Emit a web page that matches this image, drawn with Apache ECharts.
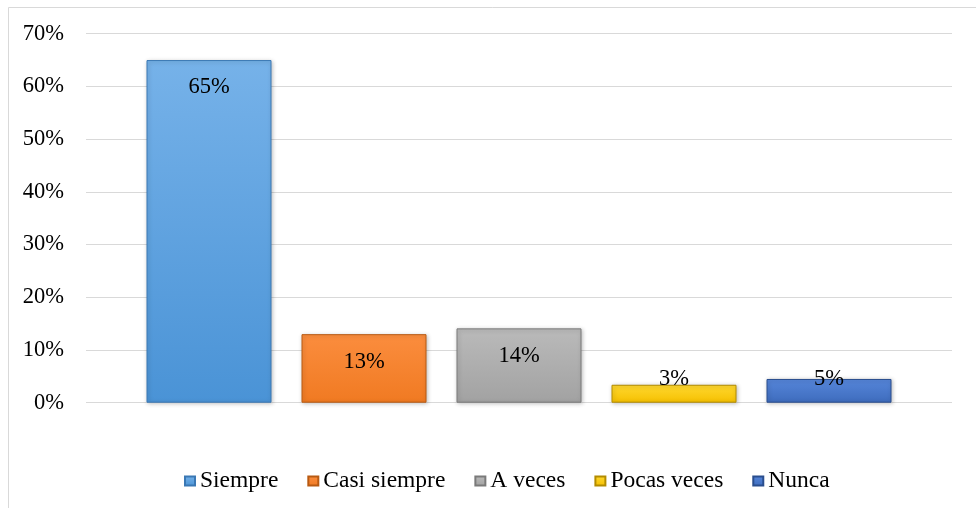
<!DOCTYPE html>
<html>
<head>
<meta charset="utf-8">
<script src="https://cdn.jsdelivr.net/npm/echarts@6/dist/echarts.min.js"></script>
<style>html,body{margin:0;padding:0;background:#fff;}#c{width:976px;height:508px;}</style>
</head>
<body>
<div id="c"></div>
<script>
const seriesNames = ['Siempre', 'Casi siempre', 'A veces', 'Pocas veces', 'Nunca'];
const seriesValues = [65, 13, 14.1, 3.4, 4.5];
const yTicks = [0, 10, 20, 30, 40, 50, 60, 70];

const palette = [
  {top: '#76B2E9', bottom: '#4A93D6', border: '#3A78B4'},
  {top: '#FB8D3E', bottom: '#F07A22', border: '#B85A12'},
  {top: '#BABABA', bottom: '#A2A2A2', border: '#7A7A7A'},
  {top: '#FFD830', bottom: '#F5C000', border: '#B38C00'},
  {top: '#5686DA', bottom: '#3E6CBD', border: '#2A4E8E'}
];
const FONT = 'Liberation Serif';

const chart = echarts.init(document.getElementById('c'), null, {renderer: 'canvas'});
const series = seriesNames.map((name, i) => {
  const v = seriesValues[i];
  const big = v >= 10;
  return {
    name: name,
    type: 'bar',
    data: [v],
    barWidth: 125,
    barGap: '24%',
    itemStyle: {
      color: new echarts.graphic.LinearGradient(0, 0, 0, 1, [
        {offset: 0, color: palette[i].top},
        {offset: 1, color: palette[i].bottom}
      ]),
      borderColor: palette[i].border,
      borderWidth: 1,
      shadowColor: 'rgba(0,0,0,0.25)',
      shadowBlur: 4,
      shadowOffsetX: 1,
      shadowOffsetY: 1
    },
    label: {
      show: true,
      position: big ? 'insideTop' : 'insideBottom',
      distance: big ? 16 : 12,
      formatter: p => Math.round(p.value) + '%',
      color: '#000',
      fontFamily: FONT,
      fontSize: 22.5
    }
  };
});

chart.setOption({
  animation: false,
  backgroundColor: '#fff',
  graphic: [{
    type: 'rect',
    shape: {x: 8.5, y: 7.5, width: 990, height: 520},
    style: {fill: 'none', stroke: '#D9D9D9', lineWidth: 1},
    silent: true
  }],
  grid: {left: 86, right: 24, top: 33.7, bottom: 105.3, containLabel: false},
  legend: {
    data: seriesNames,
    left: 179,
    top: 464,
    itemWidth: 10,
    itemHeight: 9,
    itemGap: 29,
    icon: 'rect',
    textStyle: {fontFamily: FONT, fontSize: 23.5, color: '#000'},
    formatter: n => n
  },
  xAxis: {
    type: 'category',
    data: [''],
    axisLine: {show: false},
    axisTick: {show: false},
    axisLabel: {show: false}
  },
  yAxis: {
    type: 'value',
    min: yTicks[0],
    max: yTicks[yTicks.length - 1],
    interval: 10,
    axisLine: {show: false},
    axisTick: {show: false},
    splitLine: {lineStyle: {color: '#D9D9D9', width: 1}},
    axisLabel: {
      formatter: v => v + '%',
      color: '#000',
      fontFamily: FONT,
      fontSize: 22.5,
      margin: 22
    }
  },
  series: series
});
</script>
</body>
</html>
